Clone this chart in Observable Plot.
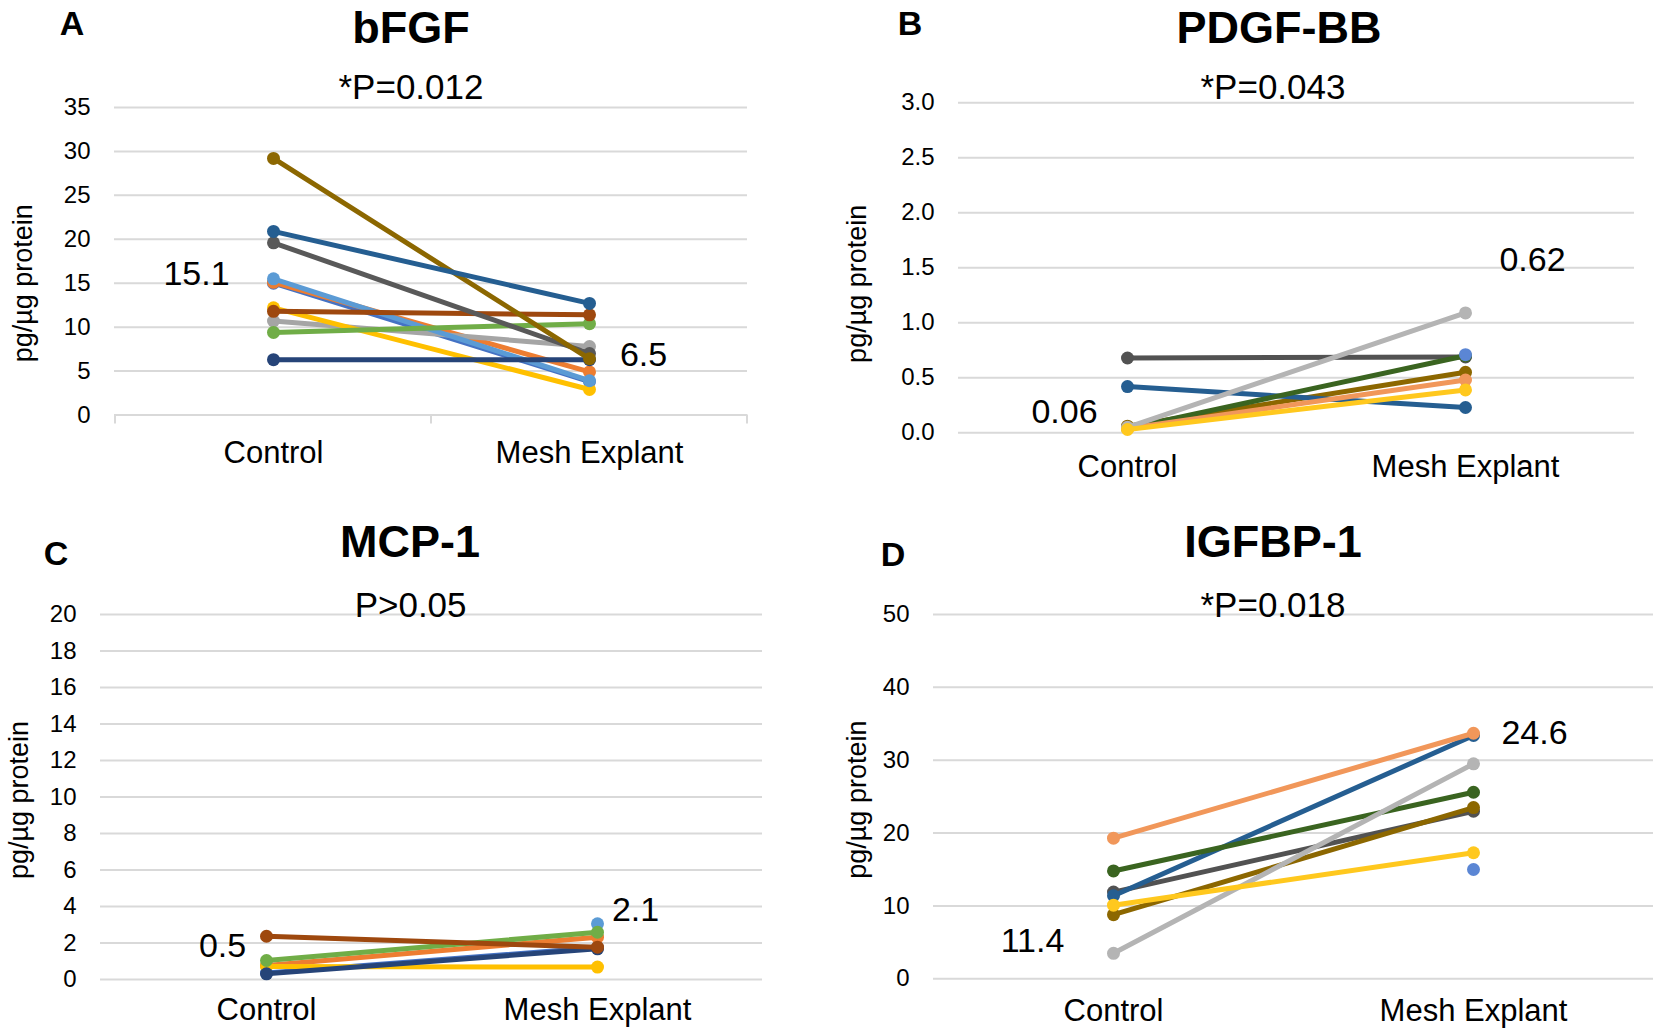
<!DOCTYPE html>
<html><head><meta charset="utf-8">
<script src="https://cdn.jsdelivr.net/npm/d3@7"></script>
<script src="https://cdn.jsdelivr.net/npm/@observablehq/plot@0.6"></script>
<style>
html,body{margin:0;padding:0;background:#fff;}
#page{position:relative;width:1655px;height:1030px;overflow:hidden;font-family:"Liberation Sans",Arial,Helvetica,sans-serif;color:#000;}
.t{position:absolute;transform:translate(-50%,-50%);line-height:1;white-space:nowrap;}
.letter{font-weight:bold;font-size:34px;}
.title{font-weight:bold;font-size:45px;}
.pval{font-size:35px;}
.panel{position:absolute;}
.panel svg{overflow:visible;}
</style></head><body><div id="page"></div>
<script>
// ---------- data ----------
const categories = ["Control", "Mesh Explant"];
const panelLetters = ["A", "B", "C", "D"];
const panelTitles = ["bFGF", "PDGF-BB", "MCP-1", "IGFBP-1"];
const pValues = ["*P=0.012", "*P=0.043", "P>0.05", "*P=0.018"];
const yLabel = "pg/µg protein";

// Panel A: bFGF
const controlA = [15.0, 15.1, 10.7, 12.2, 15.5, 9.4, 6.3, 11.8, 19.6, 29.2, 20.9];
const meshA    = [3.8,  4.9,  7.8,  2.9,  3.9, 10.4, 6.3, 11.4, 7.0,  6.4, 12.7];
const ticksA = [0, 5, 10, 15, 20, 25, 30, 35];
const meansA = [15.1, 6.5];

// Panel B: PDGF-BB
const controlB = [0.68, 0.06, 0.42, 0.04, null, 0.04, 0.05, 0.03];
const meshB    = [0.69, 0.55, 0.23, 0.70, 0.71, 0.48, 1.09, 0.39];
const ticksB = [0, 0.5, 1.0, 1.5, 2.0, 2.5, 3.0];
const meansB = [0.06, 0.62];

// Panel C: MCP-1
const controlC = [0.35, 0.77, 0.71, null, 1.04, 0.31, 2.37];
const meshC    = [1.75, 2.32, 0.68, 3.05, 2.59, 1.68, 1.77];
const ticksC = [0, 2, 4, 6, 8, 10, 12, 14, 16, 18, 20];
const meansC = [0.5, 2.1];

// Panel D: IGFBP-1
const controlD = [11.9, 8.8, 11.4, 14.8, null, 19.3, 3.5, 10.1];
const meshD    = [23.0, 23.5, 33.4, 25.6, 15.0, 33.7, 29.5, 17.3];
const ticksD = [0, 10, 20, 30, 40, 50];
const meansD = [11.4, 24.6];

// ---------- styles ----------
const colorsA = ["#4472c4", "#ed7d31", "#a5a5a5", "#ffc000", "#5b9bd5", "#70ad47", "#264478", "#9e480e", "#595959", "#8c6700", "#255e91"];
const colorsB = ["#525252", "#8c6700", "#255e91", "#3a6420", "#5b86d4", "#f1975a", "#b4b4b4", "#ffc81e"];
const colorsC = ["#4472c4", "#ed7d31", "#ffc000", "#5b9bd5", "#70ad47", "#264478", "#9e480e"];
const colorsD = ["#525252", "#8c6700", "#255e91", "#3a6420", "#5b86d4", "#f1975a", "#b4b4b4", "#ffc81e"];

const layouts = [
  {sx: 0,   sy: 90,  sw: 820, sh: 410, L: 114, R: 747,  T: 107,   B: 414.5, domain: [0, 35], ticks: ticksA, fmt: d3.format("d"),
   control: controlA, mesh: meshA, colors: colorsA, means: meansA, meanOff: [[-77, -8], [54, -3]], ylab: [-91, 22], catDy: 38, bandTicks: true,
   letter: [72, 23], title: [411, 27], pval: [411, 85.5]},
  {sx: 820, sy: 90,  sw: 835, sh: 410, L: 958, R: 1634, T: 102.3, B: 432.3, domain: [0, 3], ticks: ticksB, fmt: d3.format(".1f"),
   control: controlB, mesh: meshB, colors: colorsB, means: meansB, meanOff: [[-63, -14], [67, -104]], ylab: [-101, 16], catDy: 34, bandTicks: false,
   letter: [910, 23], title: [1279, 27], pval: [1273, 85.5]},
  {sx: 0,   sy: 600, sw: 820, sh: 430, L: 100, R: 762,  T: 614,   B: 979,   domain: [0, 20], ticks: ticksC, fmt: d3.format("d"),
   control: controlC, mesh: meshC, colors: colorsC, means: meansC, meanOff: [[-44, -24], [38, -31]], ylab: [-81, 3], catDy: 31, bandTicks: false,
   letter: [56, 553], title: [410, 541], pval: [410.6, 604]},
  {sx: 820, sy: 600, sw: 835, sh: 430, L: 933, R: 1653, T: 614,   B: 978.3, domain: [0, 50], ticks: ticksD, fmt: d3.format("d"),
   control: controlD, mesh: meshD, colors: colorsD, means: meansD, meanOff: [[-81, 45], [61, -66]], ylab: [-76, 3], catDy: 32, bandTicks: false,
   letter: [893, 554], title: [1273, 541], pval: [1273, 604]}
];

const page = document.getElementById("page");
const FONT = '"Liberation Sans", Arial, Helvetica, sans-serif';

function bandTickMark(index, scales, values, dimensions) {
  const x = scales.x;
  const step = x(categories[1]) - x(categories[0]);
  const pos = [x(categories[0]) - step / 2, ...categories.map(c => x(c) + step / 2)];
  const yb = dimensions.height - dimensions.marginBottom;
  const g = d3.create("svg:g");
  g.selectAll("line").data(pos).join("line")
    .attr("x1", d => d).attr("x2", d => d)
    .attr("y1", yb).attr("y2", yb + 9)
    .attr("stroke", "#d9d9d9").attr("stroke-width", 2);
  return g.node();
}

layouts.forEach((p, pi) => {
  const marks = [];
  marks.push(Plot.ruleY(p.ticks, {stroke: "#d9d9d9", strokeWidth: 2}));
  if (p.bandTicks) marks.push(bandTickMark);
  p.control.forEach((c, i) => {
    const rows = [{x: categories[0], y: c}, {x: categories[1], y: p.mesh[i]}].filter(d => d.y != null);
    const col = p.colors[i];
    if (rows.length > 1) marks.push(Plot.line(rows, {x: "x", y: "y", stroke: col, strokeWidth: 5}));
    marks.push(Plot.dot(rows, {x: "x", y: "y", fill: col, r: 6.5}));
  });
  // y tick labels
  marks.push(Plot.text(p.ticks, {y: d => d, text: d => p.fmt(d), frameAnchor: "left", textAnchor: "end", lineAnchor: "middle", dx: -24, fontSize: 24, fill: "#000"}));
  // category labels
  marks.push(Plot.text(categories, {x: d => d, text: d => d, frameAnchor: "bottom", textAnchor: "middle", lineAnchor: "middle", dy: p.catDy, fontSize: 31, fill: "#000"}));
  // y label
  marks.push(Plot.text([yLabel], {text: d => d, frameAnchor: "left", textAnchor: "middle", lineAnchor: "middle", rotate: -90, dx: p.ylab[0], dy: p.ylab[1], fontSize: 27, fill: "#000"}));
  // mean labels
  p.means.forEach((m, k) => {
    marks.push(Plot.text([m], {x: () => categories[k], y: d => d, text: d => String(d), textAnchor: "middle", lineAnchor: "middle", dx: p.meanOff[k][0], dy: p.meanOff[k][1], fontSize: 34, fill: "#000"}));
  });

  const chart = Plot.plot({
    width: p.sw, height: p.sh,
    marginLeft: p.L - p.sx, marginRight: p.sx + p.sw - p.R,
    marginTop: p.T - p.sy, marginBottom: p.sy + p.sh - p.B,
    style: {fontFamily: FONT, background: "transparent", overflow: "visible"},
    x: {type: "point", domain: categories, padding: 0.5, axis: null},
    y: {domain: p.domain, axis: null},
    marks
  });
  const wrap = document.createElement("div");
  wrap.className = "panel";
  wrap.style.left = p.sx + "px";
  wrap.style.top = p.sy + "px";
  wrap.appendChild(chart);
  page.appendChild(wrap);

  const addText = (txt, cls, xy) => {
    const d = document.createElement("div");
    d.className = "t " + cls;
    d.textContent = txt;
    d.style.left = xy[0] + "px";
    d.style.top = xy[1] + "px";
    page.appendChild(d);
  };
  addText(panelLetters[pi], "letter", p.letter);
  addText(panelTitles[pi], "title", p.title);
  addText(pValues[pi], "pval", p.pval);
});
</script>
</body></html>
